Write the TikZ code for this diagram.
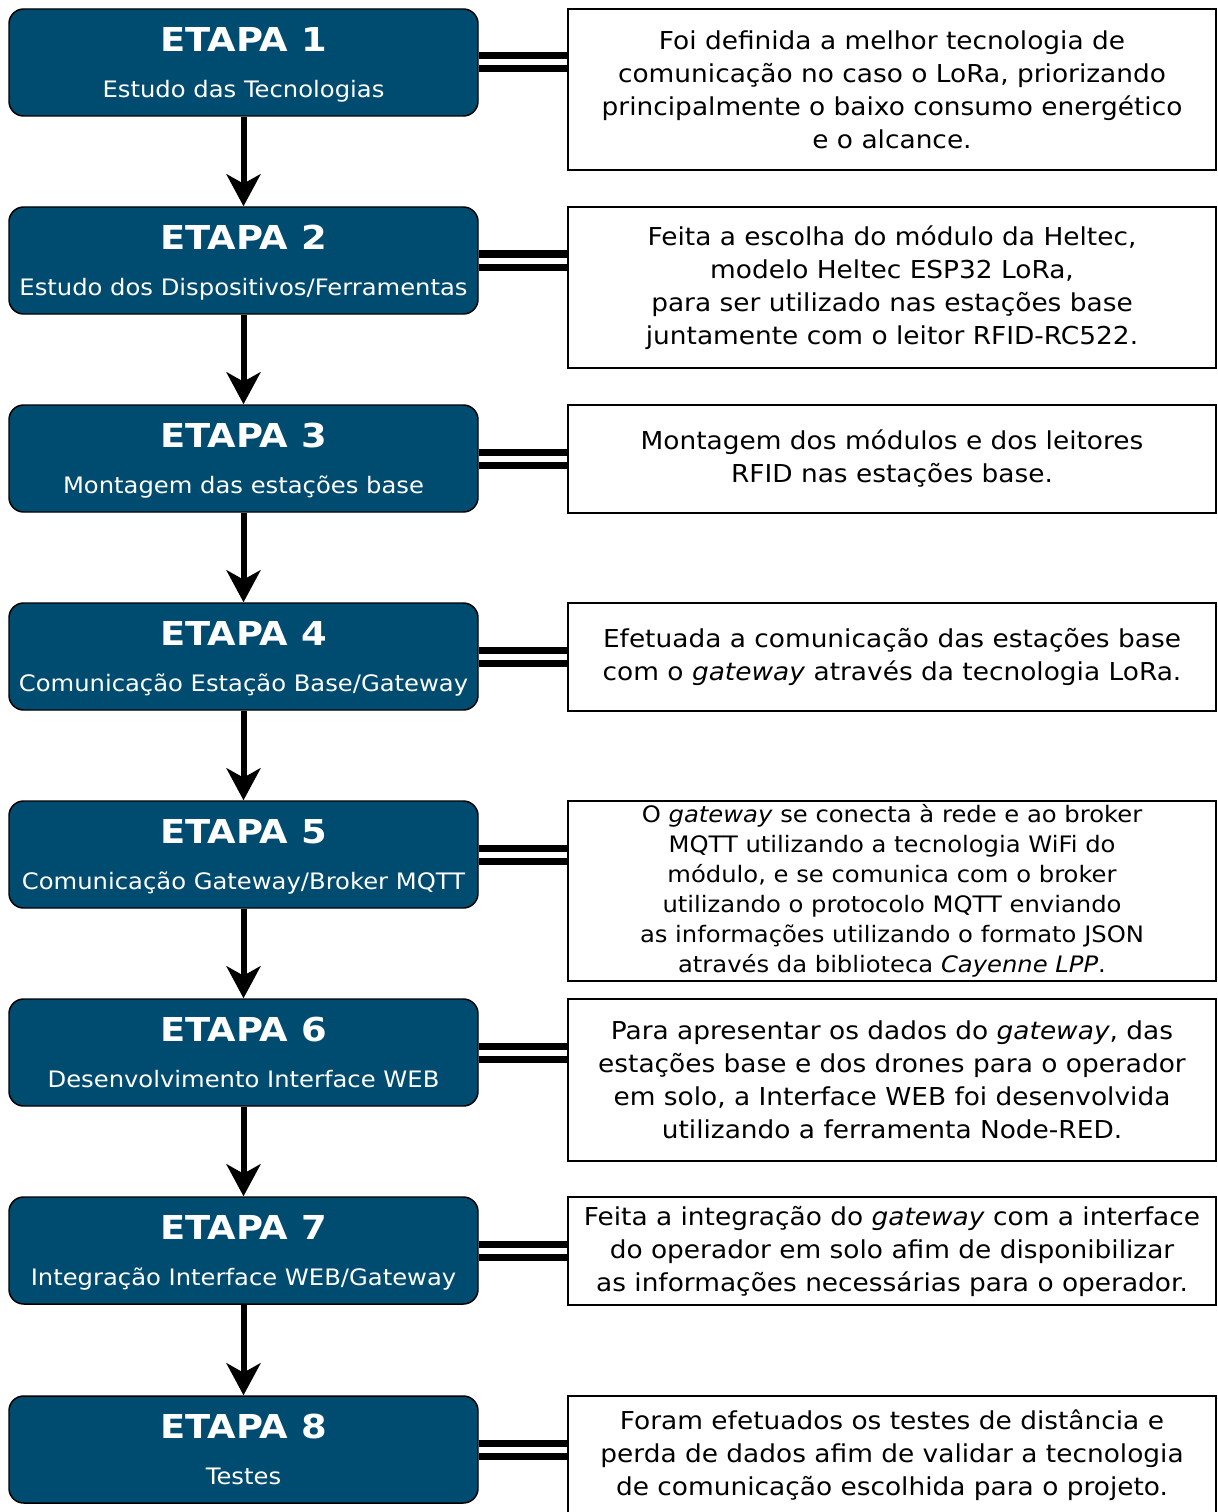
\documentclass[tikz,border=0pt]{standalone}
\usepackage{fontspec}
\setmainfont{DejaVu Sans}[FakeStretch=1.07]
\newfontfamily\stagetitlefont{DejaVu Sans}[FakeStretch=1.12]
\usetikzlibrary{arrows.meta,calc}
\definecolor{etapablue}{RGB}{0,76,112}
\tikzset{
  stagebox/.style={draw=black, line width=1.1pt, fill=etapablue, rounded corners=11pt,
    minimum width=351.75pt, minimum height=80.25pt, inner sep=0pt},
  stagetitle/.style={anchor=base, text=white, font=\stagetitlefont\fontsize{24.7pt}{28pt}\selectfont\bfseries, inner sep=0pt},
  stagesub/.style={anchor=base, text=white, font=\fontsize{17pt}{20pt}\selectfont, inner sep=0pt},
  descbox/.style={draw=black, line width=1.1pt, fill=white, minimum width=486pt,
    align=center, inner sep=0pt, font=\fontsize{18.5pt}{24.75pt}\selectfont},
  smalldesc/.style={font=\fontsize{17pt}{22.5pt}\selectfont},
  linkline/.style={draw=black, line width=5.25pt, double=white, double distance=4.5pt},
  flowarrow/.style={draw=black, line width=4.5pt, -{Stealth[length=24pt,width=25.5pt,inset=7pt]}},
}
\begin{document}
\begin{tikzpicture}[x=0.75pt,y=-0.75pt]
\useasboundingbox[fill=white] (0,0) rectangle (1217,1512);

% stage boxes
\foreach \i/\cy/\sub in {
  1/62.5/{Estudo das Tecnologias},
  2/260.5/{Estudo dos Dispositivos/Ferramentas},
  3/458.5/{Montagem das estações base},
  4/656.5/{Comunicação Estação Base/Gateway},
  5/854.5/{Comunicação Gateway/Broker MQTT},
  6/1052.5/{Desenvolvimento Interface WEB},
  7/1250.5/{Integração Interface WEB/Gateway},
  8/1449.5/{Testes}}{
  \node[stagebox] (s\i) at (243.5,\cy) {};
  \node[stagetitle] (t\i) at ($(s\i.north)+(0,43)$) {ETAPA \i};
  \node[stagesub] (u\i) at ($(s\i.north)+(0,89)$) {\sub};
}

% description boxes
\node[descbox, minimum height=120.75pt] (d1) at (892,89.5)
  {Foi definida a melhor tecnologia de\\comunicação no caso o LoRa, priorizando\\principalmente o baixo consumo energético\\e o alcance.};
\node[descbox, minimum height=120.75pt] (d2) at (892,287.5)
  {Feita a escolha do módulo da Heltec,\\modelo Heltec ESP32 LoRa,\\para ser utilizado nas estações base\\juntamente com o leitor RFID-RC522.};
\node[descbox, minimum height=81pt] (d3) at (892,459)
  {Montagem dos módulos e dos leitores\\RFID nas estações base.};
\node[descbox, minimum height=81pt] (d4) at (892,657)
  {Efetuada a comunicação das estações base\\com o \textit{gateway} através da tecnologia LoRa.};
\node[descbox, smalldesc, minimum height=135pt] (d5) at (892,891)
  {O \textit{gateway} se conecta à rede e ao broker\\MQTT utilizando a tecnologia WiFi do\\módulo, e se comunica com o broker\\utilizando o protocolo MQTT enviando\\as informações utilizando o formato JSON\\através da biblioteca \textit{Cayenne LPP}.};
\node[descbox, minimum height=121.5pt] (d6) at (892,1080)
  {Para apresentar os dados do \textit{gateway}, das\\estações base e dos drones para o operador\\em solo, a Interface WEB foi desenvolvida\\utilizando a ferramenta Node-RED.};
\node[descbox, minimum height=81pt] (d7) at (892,1251)
  {Feita a integração do \textit{gateway} com a interface\\do operador em solo afim de disponibilizar\\as informações necessárias para o operador.};
\node[descbox, minimum height=88.5pt] (d8) at (892,1455)
  {Foram efetuados os testes de distância e\\perda de dados afim de validar a tecnologia\\de comunicação escolhida para o projeto.};

% double links
\foreach \i in {1,...,8}{
  \draw[linkline] (s\i.east) -- (s\i.east -| d\i.west);
}

% arrows
\foreach \i/\j in {1/2,2/3,3/4,4/5,5/6,6/7,7/8}{
  \draw[flowarrow] (s\i.south) -- (s\j.north);
}
\end{tikzpicture}
\end{document}
